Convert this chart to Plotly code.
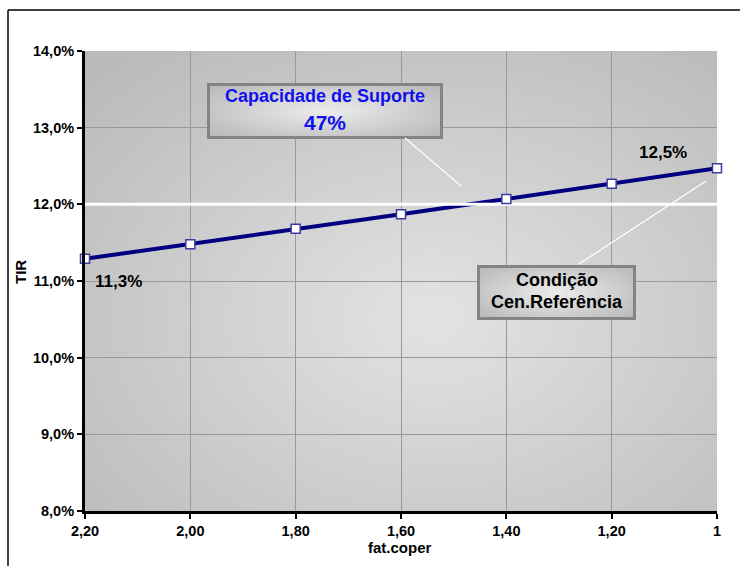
import base64
import plotly.graph_objects as go

# Fator de cobertura (eixo invertido) e TIR correspondente
fator = [2.2, 2.0, 1.8, 1.6, 1.4, 1.2, 1.0]
rotulos_x = ["2,20", "2,00", "1,80", "1,60", "1,40", "1,20", "1"]
tir = [0.1129, 0.1148, 0.1168, 0.1187, 0.1207, 0.1227, 0.1247]
tir_minima = 0.12          # linha de referência da TIR
capacidade_suporte = "47%"

# Geometria da área de plotagem (pixels)
W, H = 740, 566
L, R, T, B = 85, 23, 51, 55
PW, PH = W - L - R, H - T - B


def px(x):
    return (x - L) / PW


def py(y):
    return (H - B - y) / PH


def pct(v):
    return f"{v * 100:.1f}%".replace(".", ",")


def svg_uri(svg):
    return "data:image/svg+xml;base64," + base64.b64encode(svg.encode()).decode()


def gradient_svg(w, h, c0, c1, cx="50%", cy="50%", r="70%", stroke=None, sw=0):
    border = ""
    if stroke:
        border = (f'<rect x="{sw/2}" y="{sw/2}" width="{w-sw}" height="{h-sw}" '
                  f'fill="none" stroke="{stroke}" stroke-width="{sw}"/>')
    return (f'<svg xmlns="http://www.w3.org/2000/svg" width="{w}" height="{h}" '
            f'viewBox="0 0 {w} {h}" preserveAspectRatio="none">'
            f'<defs><radialGradient id="g" cx="{cx}" cy="{cy}" r="{r}">'
            f'<stop offset="0" stop-color="{c0}"/><stop offset="1" stop-color="{c1}"/>'
            f'</radialGradient></defs>'
            f'<rect width="{w}" height="{h}" fill="url(#g)"/>{border}</svg>')


FONT = "Liberation Sans"
fig = go.Figure()

# curva da TIR
fig.add_trace(go.Scatter(x=fator, y=tir, mode="lines",
                         line=dict(color="#000080", width=4), hoverinfo="skip"))
# linha da TIR mínima
fig.add_trace(go.Scatter(x=[fator[0], fator[-1]], y=[tir_minima, tir_minima], mode="lines",
                         line=dict(color="white", width=3), hoverinfo="skip"))
# marcadores
fig.add_trace(go.Scatter(x=fator, y=tir, mode="markers", cliponaxis=False,
                         marker=dict(symbol="square", size=9, color="white",
                                     line=dict(color="#3c3ca0", width=1.5))))

images = [
    dict(source=svg_uri(gradient_svg(PW, PH, "#e3e3e3", "#bababa", cx="55%", cy="58%", r="75%")),
         xref="paper", yref="paper", x=0, y=1, sizex=1, sizey=1,
         sizing="stretch", layer="below", xanchor="left", yanchor="top"),
]

# caixas de texto
boxes = [(207, 83, 443, 139), (477, 265, 636, 320)]
for x0, y0, x1, y1 in boxes:
    w, h = x1 - x0, y1 - y0
    images.append(dict(
        source=svg_uri(gradient_svg(w, h, "#ececec", "#b9b9b9", r="65%", stroke="#848484", sw=3)),
        xref="paper", yref="paper", x=px(x0), y=py(y0), sizex=px(x1) - px(x0),
        sizey=py(y0) - py(y1), sizing="stretch", layer="above",
        xanchor="left", yanchor="top"))

shapes = [
    # linhas de chamada
    dict(type="line", xref="paper", yref="paper", x0=px(405), y0=py(138), x1=px(461), y1=py(186),
         line=dict(color="white", width=1.3), layer="above"),
    dict(type="line", xref="paper", yref="paper", x0=px(579), y0=py(264), x1=px(706), y1=py(181),
         line=dict(color="white", width=1.3), layer="above"),
    # moldura do gráfico
    dict(type="line", xref="paper", yref="paper", x0=px(8), y0=py(10), x1=px(W + 5), y1=py(10),
         line=dict(color="black", width=1.5)),
    dict(type="line", xref="paper", yref="paper", x0=px(8), y0=py(10), x1=px(8), y1=py(H + 5),
         line=dict(color="black", width=1.5)),
]


def texto(xp, yp, txt, size, color="black", angle=0):
    return dict(xref="paper", yref="paper", x=px(xp), y=py(yp), text=f"<b>{txt}</b>",
                xanchor="center", yanchor="middle", showarrow=False, textangle=angle,
                font=dict(family=FONT, size=size, color=color))


annotations = [
    texto(325, 96, "Capacidade de Suporte", 18, "#1010ee"),
    texto(325, 122, capacidade_suporte, 21, "#1010ee"),
    texto(557, 280, "Condição", 18),
    texto(557, 302, "Cen.Referência", 18),
    # títulos dos eixos
    texto(20, 272, "TIR", 15, angle=-90),
    texto(400, 547, "fat.coper", 15),
    # rótulos dos extremos
    dict(x=fator[0], y=tir[0], text=f"<b>{pct(tir[0])}</b>", showarrow=False,
         xanchor="left", yanchor="middle", xshift=8, yshift=-23,
         font=dict(family=FONT, size=17, color="black")),
    dict(x=fator[-1], y=tir[-1], text=f"<b>{pct(tir[-1])}</b>", showarrow=False,
         xanchor="center", yanchor="middle", xshift=-54, yshift=16,
         font=dict(family=FONT, size=17, color="black")),
]

fig.update_layout(
    width=W, height=H,
    margin=dict(l=L, r=R, t=T, b=B, pad=0),
    paper_bgcolor="white",
    plot_bgcolor="rgba(0,0,0,0)",
    separators=",.",
    showlegend=False,
    images=images,
    shapes=shapes,
    annotations=annotations,
    font=dict(family=FONT, size=14, color="black"),
)

fig.update_xaxes(
    range=[fator[0], fator[-1]],
    tickmode="array", tickvals=fator, ticktext=[f"<b>{t}</b>" for t in rotulos_x],
    showgrid=True, gridcolor="#999999", gridwidth=1,
    showline=True, linecolor="black", linewidth=3,
    ticks="outside", ticklen=5, tickwidth=2, tickcolor="black",
    zeroline=False, tickfont=dict(family=FONT, size=14.5),
)
fig.update_yaxes(
    range=[0.08, 0.14], dtick=0.01, tick0=0.08,
    tickformat=".1%", tickprefix="<b>", ticksuffix="</b>",
    showgrid=True, gridcolor="#999999", gridwidth=1,
    showline=True, linecolor="black", linewidth=3,
    ticks="outside", ticklen=5, tickwidth=2, tickcolor="black",
    zeroline=False, tickfont=dict(family=FONT, size=14.5),
)

fig.write_html("out.html")
